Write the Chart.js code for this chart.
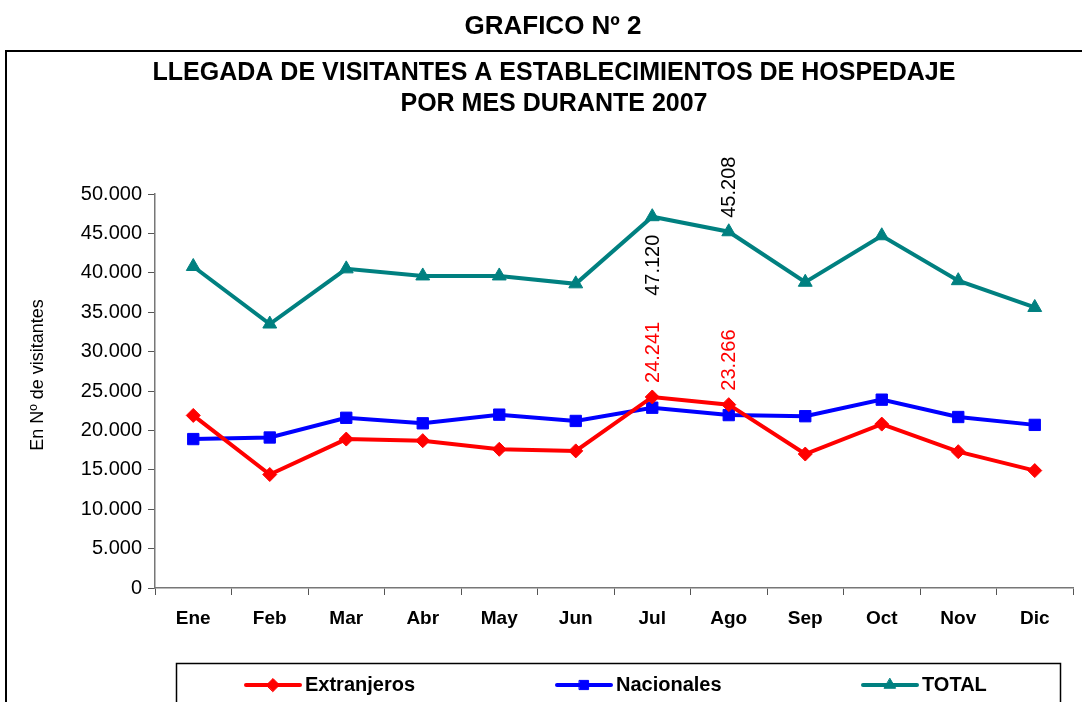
<!DOCTYPE html>
<html>
<head>
<meta charset="utf-8">
<script src="https://cdn.jsdelivr.net/npm/chart.js@4.4.0/dist/chart.umd.min.js"></script>
<style>
  html, body { margin: 0; padding: 0; background: #fff; }
  #wrap { position: relative; width: 1082px; height: 702px; overflow: hidden; }
  #frame { position: absolute; left: 5px; top: 50px; width: 1090px; height: 700px; border: 2px solid #000; box-sizing: border-box; }
  canvas { position: absolute; left: 0; top: 0; }
</style>
</head>
<body>
<div id="wrap">
  <div id="frame"></div>
  <canvas id="chart" width="1082" height="702"></canvas>
</div>
<script>
var meses = ['Ene', 'Feb', 'Mar', 'Abr', 'May', 'Jun', 'Jul', 'Ago', 'Sep', 'Oct', 'Nov', 'Dic'];
var extranjeros = [21900, 14400, 18900, 18700, 17600, 17400, 24241, 23266, 17000, 20800, 17300, 14900];
var nacionales = [18900, 19100, 21600, 20900, 22000, 21200, 22879, 21942, 21800, 23900, 21700, 20700];
var total = [40800, 33500, 40500, 39600, 39600, 38600, 47120, 45208, 38800, 44700, 39000, 35600];
var yTicks = [0, 5000, 10000, 15000, 20000, 25000, 30000, 35000, 40000, 45000, 50000];
var etiquetados = [6, 7]; // Jul, Ago llevan etiqueta de valor

var FONT = '"Liberation Sans", Arial, sans-serif';

function fmt(v) {
    return String(v).replace(/\B(?=(\d{3})+(?!\d))/g, '.');
}

// titulos, eje y, etiquetas y leyenda
var decor = {
    id: 'decor',
    afterDatasetsDraw: function (chart) {
        var ctx = chart.ctx;
        ctx.save();
        ctx.fillStyle = '#000';
        ctx.textAlign = 'center';
        ctx.textBaseline = 'middle';
        ctx.font = 'bold 26px ' + FONT;
        ctx.fillText('GRAFICO Nº 2', 553, 27);
        ctx.font = 'bold 25px ' + FONT;
        ctx.fillText('LLEGADA DE VISITANTES A ESTABLECIMIENTOS DE HOSPEDAJE', 554, 73);
        ctx.fillText('POR MES DURANTE 2007', 554, 104);

        ctx.font = '18px ' + FONT;
        ctx.translate(38, 375);
        ctx.rotate(-Math.PI / 2);
        ctx.fillText('En Nº de visitantes', 0, 0);
        ctx.restore();

        // etiquetas rotadas
        ctx.save();
        ctx.font = '20px ' + FONT;
        ctx.textBaseline = 'middle';
        etiquetados.forEach(function (i) {
            [0, 2].forEach(function (d) {
                var pt = chart.getDatasetMeta(d).data[i];
                var below = (d === 2 && i === 6);
                ctx.save();
                ctx.fillStyle = d === 0 ? '#ff0000' : '#000';
                if (below) {
                    ctx.translate(pt.x + 1, pt.y + 18);
                    ctx.rotate(-Math.PI / 2);
                    ctx.textAlign = 'right';
                } else {
                    ctx.translate(pt.x + 1, pt.y - 14);
                    ctx.rotate(-Math.PI / 2);
                    ctx.textAlign = 'left';
                }
                ctx.fillText(fmt(chart.data.datasets[d].data[i]), 0, 0);
                ctx.restore();
            });
        });
        ctx.restore();

        // leyenda
        ctx.save();
        ctx.strokeStyle = '#000';
        ctx.lineWidth = 1.5;
        ctx.strokeRect(176.5, 663.5, 884, 60);
        var xs = [246, 557, 863];
        chart.data.datasets.forEach(function (ds, k) {
            var x0 = xs[k], y = 685;
            ctx.strokeStyle = ds.borderColor;
            ctx.lineWidth = 4;
            ctx.lineCap = 'round';
            ctx.beginPath();
            ctx.moveTo(x0, y);
            ctx.lineTo(x0 + 54, y);
            ctx.stroke();
            ctx.fillStyle = ds.borderColor;
            ctx.lineWidth = 1;
            Chart.helpers.drawPoint(ctx, { pointStyle: ds.pointStyle, radius: 6.5, borderWidth: 1 }, x0 + 27, y);
            ctx.fillStyle = '#000';
            ctx.font = 'bold 20px ' + FONT;
            ctx.textAlign = 'left';
            ctx.textBaseline = 'middle';
            ctx.fillText(ds.label, x0 + 59, y);
        });
        ctx.restore();
    }
};

var ctx = document.getElementById('chart').getContext('2d');
var chart = new Chart(ctx, {
    type: 'line',
    data: {
        labels: meses,
        datasets: [{
            label: 'Extranjeros',
            data: extranjeros,
            borderColor: '#ff0000',
            backgroundColor: '#ff0000',
            borderWidth: 4,
            pointStyle: 'rectRot',
            pointRadius: 7,
            pointBorderWidth: 1
        }, {
            label: 'Nacionales',
            data: nacionales,
            borderColor: '#0000ff',
            backgroundColor: '#0000ff',
            borderWidth: 4,
            pointStyle: 'rect',
            pointRadius: 8,
            pointBorderWidth: 1
        }, {
            label: 'TOTAL',
            data: total,
            borderColor: '#008080',
            backgroundColor: '#008080',
            borderWidth: 4,
            pointStyle: 'triangle',
            pointRadius: 8,
            pointBorderWidth: 1
        }]
    },
    options: {
        responsive: false,
        animation: false,
        layout: { padding: { top: 194, right: 5, left: 0, bottom: 0 } },
        plugins: {
            legend: { display: false },
            title: { display: false },
            tooltip: { enabled: false }
        },
        scales: {
            x: {
                offset: true,
                afterFit: function (s) { s.height = 702 - 194 - 394; },
                grid: { offset: true, drawOnChartArea: false, tickLength: 7, color: '#555' },
                border: { color: '#777', width: 1.5 },
                ticks: {
                    color: '#000',
                    padding: 12,
                    maxRotation: 0,
                    font: { family: FONT, size: 19, weight: 'bold' }
                }
            },
            y: {
                min: 0,
                max: 50000,
                afterFit: function (s) { s.width = 155; },
                afterBuildTicks: function (s) { s.ticks = yTicks.map(function (v) { return { value: v }; }); },
                grid: { drawOnChartArea: false, tickLength: 7, color: '#555' },
                border: { color: '#777', width: 1.5 },
                ticks: {
                    color: '#000',
                    padding: 6,
                    font: { family: FONT, size: 20 },
                    callback: function (v) { return fmt(v); }
                }
            }
        }
    },
    plugins: [decor]
});
</script>
</body>
</html>
